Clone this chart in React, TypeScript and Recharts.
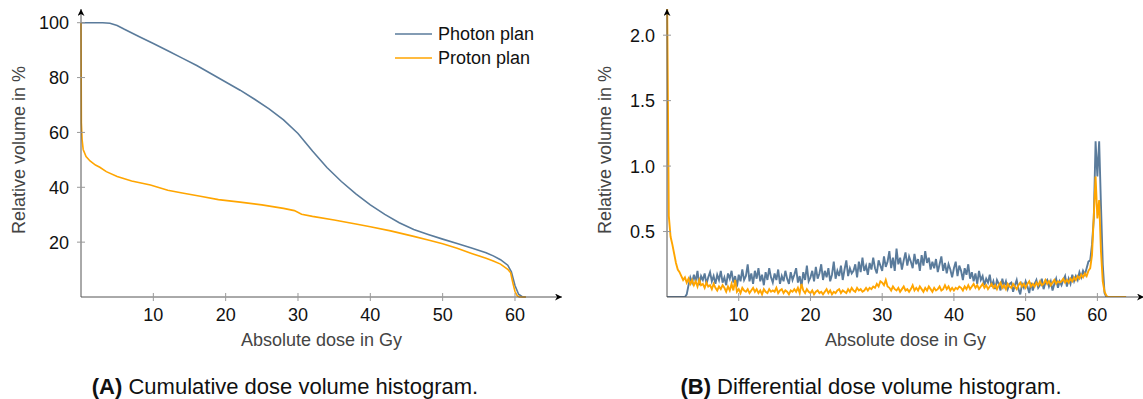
import React from 'react';
import { LineChart, Line, XAxis, YAxis, Legend, Label } from 'recharts';

// axis ticks
const doseTicks = [10, 20, 30, 40, 50, 60];
const cumVolumeTicks = [20, 40, 60, 80, 100];
const diffVolumeTicks = [0.5, 1.0, 1.5, 2.0];

// cumulative DVH (dose in Gy, volume in %)
const photonCumDose = [0, 3, 4, 5, 6, 8, 10, 12, 14, 16, 18, 20, 22, 24, 26, 28, 30, 32, 34, 36, 38, 40, 42, 44, 46, 48, 50, 52, 54, 56, 57, 58, 59, 59.5, 60, 60.5, 61, 61.5];
const photonCumVolume = [100, 100, 99.8, 99, 97.6, 95, 92.4, 89.8, 87.1, 84.4, 81.4, 78.4, 75.4, 72.1, 68.6, 64.6, 59.6, 53.2, 47.2, 42.1, 37.6, 33.6, 30.1, 27.1, 24.6, 22.8, 21.1, 19.5, 17.9, 16.1, 15.0, 13.6, 11.6, 9.2, 4.2, 1.0, 0.1, 0];

const protonCumDose = [0, 0.05, 0.15, 0.3, 0.7, 1.25, 2, 2.6, 3.5, 5, 7, 9.6, 12, 14, 16.5, 19, 22, 25, 28, 29.5, 30.5, 32, 35, 38, 40, 42.8, 46, 48, 50, 52, 54, 56, 57, 58, 59, 59.4, 59.7, 60, 60.3, 60.6, 61.5];
const protonCumVolume = [100, 63.5, 57.5, 53.8, 51.2, 49.6, 48.1, 47.3, 45.7, 43.9, 42.3, 40.8, 38.9, 37.9, 36.7, 35.5, 34.6, 33.6, 32.3, 31.5, 30.2, 29.4, 28.1, 26.6, 25.6, 24.1, 22.1, 20.8, 19.4, 17.8, 15.9, 14.1, 13.1, 12.0, 10.1, 8.8, 5.2, 2.0, 0.5, 0, 0];

// differential DVH, one value per 0.25 Gy bin from 0 to 64 Gy (volume in %)
const BIN_WIDTH = 0.25;
const photonDiff = [
  0, 0, 0, 0,
  0, 0, 0, 0,
  0, 0, 0, 0.02,
  0.09, 0.15, 0.11, 0.17,
  0.12, 0.2, 0.09, 0.16,
  0.13, 0.18, 0.1, 0.15,
  0.19, 0.12, 0.16, 0.1,
  0.17, 0.13, 0.2, 0.11,
  0.15, 0.09, 0.18, 0.14,
  0.2, 0.11, 0.16, 0.08,
  0.17, 0.12, 0.21, 0.13,
  0.16, 0.25, 0.12, 0.18,
  0.1, 0.2, 0.14, 0.22,
  0.12, 0.17, 0.09, 0.19,
  0.13, 0.22, 0.15, 0.11,
  0.18, 0.13, 0.21, 0.1,
  0.16, 0.12, 0.2, 0.14,
  0.1, 0.19, 0.13, 0.17,
  0.22, 0.11, 0.16, 0.08,
  0.19, 0.13, 0.24, 0.12,
  0.15, 0.2, 0.12, 0.23,
  0.14, 0.18, 0.25, 0.13,
  0.2, 0.15, 0.22, 0.12,
  0.17, 0.27, 0.14, 0.2,
  0.16, 0.24, 0.13, 0.21,
  0.28, 0.16, 0.22, 0.18,
  0.2, 0.25, 0.15, 0.27,
  0.19, 0.3, 0.2, 0.24,
  0.17, 0.26, 0.21, 0.3,
  0.22, 0.18, 0.28, 0.24,
  0.2, 0.31, 0.23, 0.27,
  0.35, 0.22, 0.3, 0.2,
  0.37, 0.25, 0.3, 0.21,
  0.28, 0.34, 0.24, 0.31,
  0.27, 0.22, 0.33, 0.25,
  0.29, 0.2, 0.32, 0.24,
  0.35, 0.26, 0.3, 0.21,
  0.27, 0.22, 0.29, 0.19,
  0.25, 0.31, 0.2, 0.26,
  0.18, 0.25, 0.21, 0.15,
  0.22, 0.27, 0.16, 0.24,
  0.2, 0.13, 0.22, 0.17,
  0.25, 0.14, 0.19, 0.12,
  0.18, 0.1, 0.2, 0.13,
  0.16, 0.09, 0.14, 0.11,
  0.17, 0.08, 0.12, 0.06,
  0.13, 0.1, 0.05, 0.14,
  0.08, 0.12, 0.06, 0.1,
  0.11, 0.04, 0.09, 0.13,
  0.06, 0.02, 0.1, 0.07,
  0.12, 0.08, 0.03, 0.11,
  0.05, 0.1, 0.13, 0.07,
  0.09, 0.14, 0.06, 0.11,
  0.13, 0.08, 0.12, 0.05,
  0.1, 0.14, 0.07, 0.12,
  0.09, 0.13, 0.16, 0.08,
  0.14, 0.1, 0.17, 0.12,
  0.16, 0.13, 0.19, 0.15,
  0.2, 0.17, 0.22, 0.27,
  0.28, 0.4, 0.6, 1.19,
  0.92, 1.19, 0.7, 0.25,
  0.03, 0, 0, 0,
  0, 0, 0, 0,
  0, 0, 0, 0,
  0,
];
const protonDiff = [
  2.4, 0.62, 0.46, 0.4,
  0.33, 0.26, 0.21, 0.19,
  0.16, 0.13, 0.15, 0.11,
  0.14, 0.1, 0.13, 0.09,
  0.12, 0.08, 0.13, 0.09,
  0.1, 0.07, 0.11, 0.08,
  0.09, 0.06, 0.1, 0.07,
  0.05, 0.08, 0.06, 0.09,
  0.07, 0.04, 0.08, 0.05,
  0.1, 0.05, 0.13, 0.04,
  0.06, 0.03, 0.07, 0.05,
  0.04, 0.06, 0.03, 0.05,
  0.07, 0.04, 0.06, 0.03,
  0.05, 0.02, 0.06, 0.04,
  0.03, 0.06, 0.04, 0.05,
  0.04, 0.07, 0.03, 0.05,
  0.06, 0.03, 0.05, 0.04,
  0.02, 0.05, 0.04, 0.06,
  0.04, 0.07, 0.03, 0.1,
  0.05, 0.03, 0.06, 0.04,
  0.03, 0.05, 0.02, 0.04,
  0.05, 0.03, 0.04, 0.02,
  0.04, 0.06, 0.03, 0.05,
  0.02, 0.04, 0.03, 0.05,
  0.06, 0.03, 0.05, 0.04,
  0.03, 0.06, 0.04, 0.07,
  0.05, 0.04, 0.07, 0.05,
  0.06, 0.04, 0.05, 0.07,
  0.05, 0.07, 0.06, 0.08,
  0.07, 0.1, 0.08, 0.12,
  0.11, 0.09, 0.13, 0.08,
  0.07, 0.05, 0.08, 0.06,
  0.05, 0.07, 0.04, 0.06,
  0.08, 0.05, 0.06, 0.04,
  0.06, 0.09, 0.05, 0.07,
  0.05, 0.08, 0.06, 0.04,
  0.07, 0.05, 0.08, 0.06,
  0.04, 0.07, 0.05, 0.06,
  0.08, 0.05, 0.06, 0.09,
  0.06, 0.08, 0.05, 0.07,
  0.05, 0.07, 0.06, 0.08,
  0.07, 0.05, 0.08, 0.06,
  0.09, 0.06, 0.08, 0.1,
  0.07, 0.09, 0.06, 0.08,
  0.1, 0.07, 0.09, 0.06,
  0.08, 0.1, 0.07, 0.09,
  0.06, 0.09, 0.11, 0.07,
  0.09, 0.06, 0.1, 0.08,
  0.07, 0.1, 0.08, 0.06,
  0.09, 0.11, 0.08, 0.1,
  0.07, 0.1, 0.12, 0.08,
  0.1, 0.08, 0.11, 0.09,
  0.12, 0.09, 0.1, 0.13,
  0.1, 0.12, 0.09, 0.11,
  0.13, 0.1, 0.12, 0.11,
  0.12, 0.14, 0.11, 0.13,
  0.11, 0.14, 0.12, 0.15,
  0.13, 0.16, 0.14, 0.17,
  0.15, 0.18, 0.16, 0.2,
  0.22, 0.32, 0.62, 0.92,
  0.6, 0.74, 0.35, 0.12,
  0.04, 0.01, 0, 0,
  0, 0, 0, 0,
  0, 0, 0, 0,
  0,
];

const PHOTON = '#5a7b9b';
const PROTON = '#ffa500';
const FONT = '"Liberation Sans", Arial, Helvetica, sans-serif';
const AXIS = '#555';
const TICK = '#999';

const photonCum = photonCumDose.map((d, i) => ({ dose: d, volume: photonCumVolume[i] }));
const protonCum = protonCumDose.map((d, i) => ({ dose: d, volume: protonCumVolume[i] }));
const diffData = photonDiff.map((v, i) => ({ dose: i * BIN_WIDTH, photon: v, proton: protonDiff[i] }));

const XTick = (props: any) => {
  const { x, y, payload } = props;
  return (
    <g>
      <line x1={x} x2={x} y1={y - 4} y2={y + 4} stroke={TICK} />
      <text x={x} y={y + 24} textAnchor="middle" fontSize={18} fill="#111" fontFamily={FONT}>
        {payload.value}
      </text>
    </g>
  );
};

const makeYTick = (fmt: (v: number) => string) => (props: any) => {
  const { x, y, payload } = props;
  return (
    <g>
      <line x1={x - 4} x2={x + 4} y1={y} y2={y} stroke={TICK} />
      <text x={x - 12} y={y + 6.5} textAnchor="end" fontSize={18} fill="#111" fontFamily={FONT}>
        {fmt(payload.value)}
      </text>
    </g>
  );
};

const yLabel = (cx: number) => (props: any) => {
  const { viewBox } = props;
  const cy = viewBox.y + viewBox.height / 2 - 3;
  return (
    <text x={cx} y={cy} transform={`rotate(-90, ${cx}, ${cy})`} textAnchor="middle" dominantBaseline="central"
      fontSize={18} fill="#444" fontFamily={FONT}>
      Relative volume in %
    </text>
  );
};

const xLabel = (props: any) => {
  const { viewBox } = props;
  return (
    <text x={viewBox.x + viewBox.width / 2} y={viewBox.y + 49} textAnchor="middle" fontSize={18} fill="#444" fontFamily={FONT}>
      Absolute dose in Gy
    </text>
  );
};

const renderLegend = (props: any) => (
  <div style={{ fontFamily: FONT, fontSize: 18, color: '#111' }}>
    {props.payload.map((entry: any) => (
      <div key={entry.value} style={{ display: 'flex', alignItems: 'center', height: 24 }}>
        <svg width={37} height={4}>
          <line x1={0} x2={37} y1={2} y2={2} stroke={entry.color} strokeWidth={1.5} />
        </svg>
        <span style={{ marginLeft: 6, lineHeight: '24px' }}>{entry.value}</span>
      </div>
    ))}
  </div>
);

const arrowDefs = (id: string) => (
  <defs>
    <marker id={id} viewBox="0 0 10 10" refX={10} refY={5} markerWidth={7} markerHeight={7}
      markerUnits="userSpaceOnUse" orient="auto-start-reverse">
      <path d="M0,0 L10,5 L0,10 L3,5 Z" fill="#000" />
    </marker>
  </defs>
);

const Caption = ({ center, tag, text }: { center: number; tag: string; text: string }) => (
  <div style={{
    position: 'absolute', left: center - 300, width: 600, top: 376, textAlign: 'center',
    fontFamily: FONT, fontSize: 22, lineHeight: '22px', color: '#111',
  }}>
    <b>{tag}</b> {text}
  </div>
);

const App: React.FC = () => (
  <div style={{ position: 'fixed', left: 0, top: 0, width: 1143, height: 399, overflow: 'hidden', background: '#fff' }}>
    <div style={{ position: 'absolute', left: 0, top: 0 }}>
      <LineChart width={575} height={360} margin={{ top: 9, right: 13, bottom: 0, left: 0 }}>
        {arrowDefs('arrowA')}
        <XAxis type="number" dataKey="dose" domain={[0, 66.5]} ticks={doseTicks} height={63}
          tickSize={0} tickMargin={0} tick={<XTick />}
          axisLine={{ stroke: AXIS, markerEnd: 'url(#arrowA)' } as any}>
          <Label content={xLabel} />
        </XAxis>
        <YAxis type="number" domain={[0, 105]} ticks={cumVolumeTicks} width={81}
          tickSize={0} tickMargin={0} tick={makeYTick((v) => String(v))}
          axisLine={{ stroke: AXIS, markerStart: 'url(#arrowA)' } as any}>
          <Label content={yLabel(19)} />
        </YAxis>
        <Legend layout="vertical" align="center" verticalAlign="middle" content={renderLegend}
          wrapperStyle={{ position: 'absolute', left: 395, top: 22, width: 'auto' }} />
        <Line data={photonCum} dataKey="volume" name="Photon plan" type="linear" stroke={PHOTON}
          strokeWidth={1.6} dot={false} isAnimationActive={false} />
        <Line data={protonCum} dataKey="volume" name="Proton plan" type="linear" stroke={PROTON}
          strokeWidth={1.6} dot={false} isAnimationActive={false} />
      </LineChart>
    </div>
    <div style={{ position: 'absolute', left: 580, top: 0 }}>
      <LineChart width={580} height={360} data={diffData} margin={{ top: 9, right: 16, bottom: 0, left: 0 }}>
        {arrowDefs('arrowB')}
        <XAxis type="number" dataKey="dose" domain={[0, 66.5]} ticks={doseTicks} height={63}
          tickSize={0} tickMargin={0} tick={<XTick />}
          axisLine={{ stroke: AXIS, markerEnd: 'url(#arrowB)' } as any}>
          <Label content={xLabel} />
        </XAxis>
        <YAxis type="number" domain={[0, 2.2]} allowDataOverflow ticks={diffVolumeTicks} width={87}
          tickSize={0} tickMargin={0} tick={makeYTick((v) => v.toFixed(1))}
          axisLine={{ stroke: AXIS, markerStart: 'url(#arrowB)' } as any}>
          <Label content={yLabel(25)} />
        </YAxis>
        <Line dataKey="photon" name="Photon plan" type="linear" stroke={PHOTON}
          strokeWidth={1.9} dot={false} isAnimationActive={false} />
        <Line dataKey="proton" name="Proton plan" type="linear" stroke={PROTON}
          strokeWidth={1.9} dot={false} isAnimationActive={false} />
      </LineChart>
    </div>
    <Caption center={285} tag="(A)" text="Cumulative dose volume histogram." />
    <Caption center={871} tag="(B)" text="Differential dose volume histogram." />
  </div>
);

export default App;
